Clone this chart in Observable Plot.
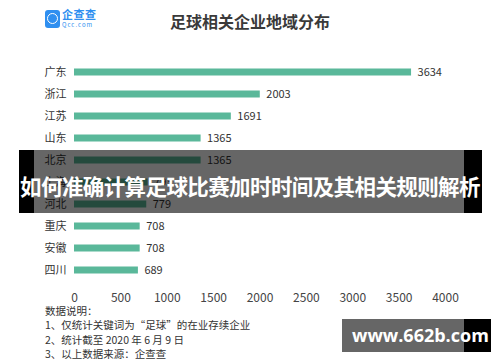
<!DOCTYPE html>
<html>
<head>
<meta charset="utf-8">
<script src="https://cdn.jsdelivr.net/npm/d3@7"></script>
<script src="https://cdn.jsdelivr.net/npm/@observablehq/plot@0.6"></script>
<style>
  html, body { margin: 0; padding: 0; background: #fff; }
  body { width: 500px; height: 362px; position: relative; overflow: hidden; font-family: "Noto Sans CJK SC", "Noto Sans", sans-serif; }
  #chart { position: absolute; left: 0; top: 0; }
  .abs { position: absolute; white-space: nowrap; }
  #title { left: 0; width: 500px; top: 10px; text-align: center; font-size: 16px; font-weight: bold; color: #3a3a3a; line-height: 22px; }
  #logo-icon { left: 45px; top: 10px; width: 15px; height: 18px; background: #2f8ff0; border-radius: 3px; }
  #logo-icon span { position: absolute; left: 2px; top: 3px; width: 9px; height: 9px; border: 1.5px solid #fff; border-radius: 50%; }
  #logo-t1 { left: 62px; top: 7px; font-size: 11px; color: #2f8ff0; font-weight: bold; letter-spacing: 0.5px; line-height: 14px; }
  #logo-t2 { left: 62px; top: 21px; font-size: 6px; color: #2f8ff0; letter-spacing: 1px; line-height: 8px; }
  #notes { left: 45px; top: 304px; font-size: 10.5px; color: #333; line-height: 14.3px; }
  #band { left: 19px; top: 150px; width: 463px; height: 63px; background: rgba(0,0,0,0.6); }
  #band-l { left: 19px; top: 150px; width: 15px; height: 63px; background: #000; }
  #band-r { left: 464px; top: 150px; width: 18px; height: 63px; background: #000; }
  #band-text { left: 0; width: 500px; top: 168px; text-align: center; font-size: 21.5px; font-weight: bold; color: #fff; line-height: 36px; letter-spacing: -0.6px; }
  #wm { left: 342px; top: 319px; width: 122px; height: 33px; background: #666; }
  #wm-r { left: 464px; top: 319px; width: 27px; height: 33px; background: #000; }
  #wm-text { left: 352px; top: 320px; font-size: 18px; font-weight: bold; color: #fff; line-height: 30px; font-family: "Open Sans", "DejaVu Sans", sans-serif; }
</style>
</head>
<body>
<div id="chart"></div>
<div class="abs" id="logo-icon"><span></span></div>
<div class="abs" id="logo-t1">企查查</div>
<div class="abs" id="logo-t2">Qcc.com</div>
<div class="abs" id="title">足球相关企业地域分布</div>
<div class="abs" id="notes">数据说明：<br>1、仅统计关键词为“足球”的在业存续企业<br>2、统计截至 2020 年 6 月 9 日<br>3、以上数据来源：企查查</div>
<div class="abs" id="band"></div>
<div class="abs" id="band-l"></div>
<div class="abs" id="band-r"></div>
<div class="abs" id="band-text">如何准确计算足球比赛加时时间及其相关规则解析</div>
<div class="abs" id="wm"></div>
<div class="abs" id="wm-r"></div>
<div class="abs" id="wm-text">www.662b.com</div>
<script>
const regions = ["广东", "浙江", "江苏", "山东", "北京", "上海", "河北", "重庆", "安徽", "四川"];
const counts = [3634, 2003, 1691, 1365, 1365, 793, 779, 708, 708, 689];
const xTicks = [0, 500, 1000, 1500, 2000, 2500, 3000, 3500, 4000];

const data = regions.map((r, i) => ({region: r, value: counts[i]}));

const chart = Plot.plot({
  width: 500,
  height: 362,
  marginLeft: 74,
  marginRight: 55,
  marginTop: 56,
  marginBottom: 77,
  style: {fontFamily: '"Noto Sans CJK SC", "Noto Sans", sans-serif', background: "transparent"},
  x: {domain: [0, 4000], ticks: xTicks, label: null},
  y: {domain: regions, padding: 0, label: null},
  marks: [
    Plot.gridX(xTicks, {stroke: "#e2e2e2", strokeOpacity: 1, y1: 56, y2: 287}),
    Plot.axisX(xTicks, {tickSize: 0, tickPadding: 8, fontSize: 12, fill: "#444", label: null, tickFormat: d => String(d)}),
    Plot.axisY({tickSize: 0, tickPadding: 8, fontSize: 11, fill: "#333", label: null}),
    Plot.barX(data, {x: "value", y: "region", fill: "#5ab89a", insetTop: 7.5, insetBottom: 7.5}),
    Plot.text(data, {x: "value", y: "region", text: d => String(d.value), textAnchor: "start", dx: 6, fontSize: 11, fill: "#333"})
  ]
});
document.getElementById("chart").appendChild(chart);
</script>
</body>
</html>
